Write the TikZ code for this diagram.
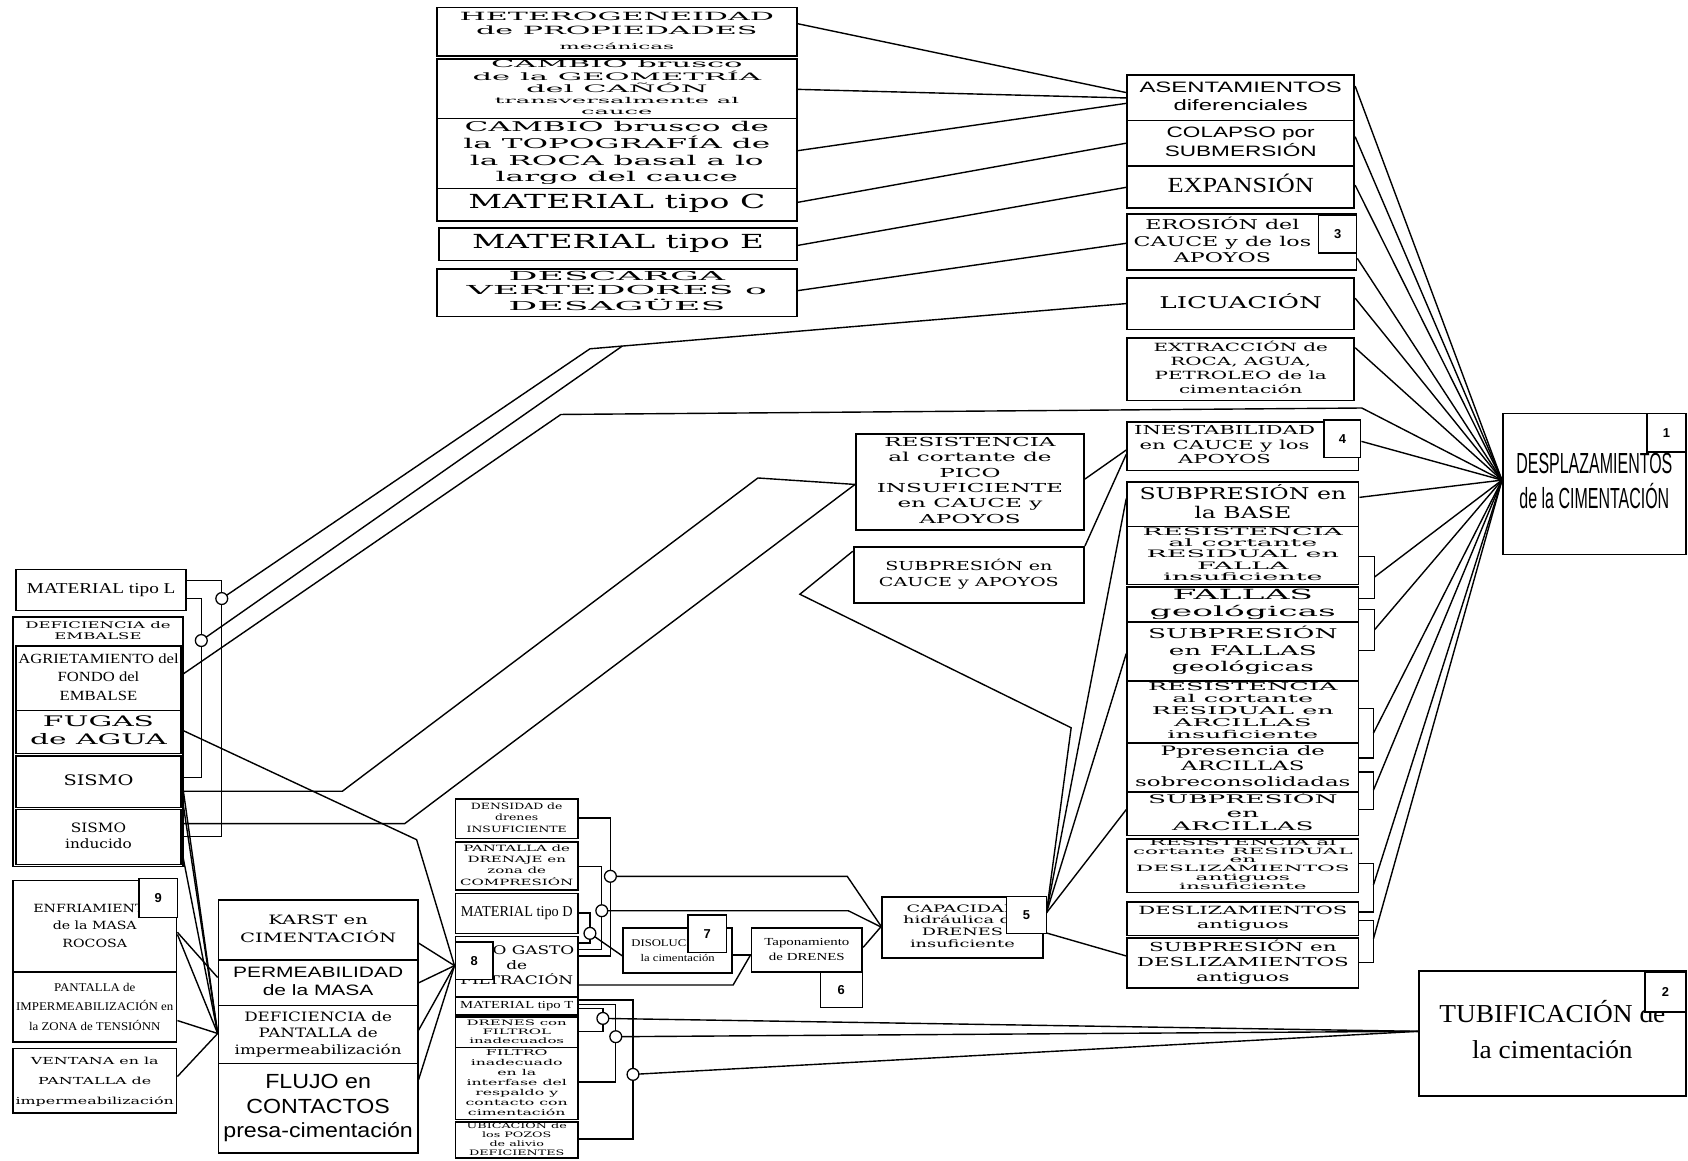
\documentclass[tikz,border=0pt]{standalone}
\usepackage{fontspec}
\usepackage{graphicx}
\newfontfamily\fWide{DejaVu Serif}
\newfontfamily\fSans{Liberation Sans}
\newfontfamily\fSer{Liberation Serif}
\newcommand\tx[4]{\fontsize{#2}{#3}\selectfont\resizebox{#1pt}{\height}{\begin{tabular}{@{}c@{}}#4\end{tabular}}}
\newcommand\bx[6]{\node[box,minimum width={(#4-#2)*1pt},minimum height={(#5-#3)*1pt}] (#1) at ({(#2+#4)/2},{(#3+#5)/2}) {#6};}
\newcommand\bd[6]{\node[badge,minimum width={(#4-#2)*1pt},minimum height={(#5-#3)*1pt}] (#1) at ({(#2+#4)/2},{(#3+#5)/2}) {#6};}
\tikzset{
 box/.style={draw,line width=1.6pt,inner sep=0pt,fill=white},
 badge/.style={draw,line width=1.3pt,fill=white,inner sep=0pt,font=\fSans\bfseries\fontsize{12}{12}\selectfont},
 ln/.style={line width=1.3pt},
 jn/.style={circle,draw,fill=white,inner sep=0pt,minimum size=11pt,line width=1.2pt},
 jnc/.style={circle,inner sep=0pt,minimum size=11pt},
}
\begin{document}
\begin{tikzpicture}[x=1pt,y=-1pt]
\fill[white] (0,0) rectangle (1568,1078);
\useasboundingbox (0,0) rectangle (1568,1078);
% ---------- top column
\bx{T1}{406}{7}{740}{52}{\fWide\tx{292}{10.5}{13.5}{HETEROGENEIDAD\\de PROPIEDADES\\{\fontsize{7.5}{9}\selectfont mecánicas}}}
\bx{T2}{406}{55}{740}{110}{\fWide\tx{268}{9.5}{10.2}{CAMBIO brusco\\de la GEOMETRÍA\\del CAÑÓN\\{\fontsize{7.5}{8.5}\selectfont transversalmente al}\\{\fontsize{7.5}{8.5}\selectfont cauce}}}
\bx{T3}{406}{110}{740}{175}{\fWide\tx{285}{12.5}{15.3}{CAMBIO brusco de\\la TOPOGRAFÍA de\\la ROCA basal a lo\\largo del cauce}}
\bx{T4}{406}{175}{740}{205}{\fWide\tx{276}{18}{20}{MATERIAL tipo C}}
\bx{T5}{408}{212}{740}{242}{\fWide\tx{271}{18}{20}{MATERIAL tipo E}}
\bx{T6}{406}{250}{740}{294}{\fWide\tx{279}{11.5}{13}{DESCARGA\\VERTEDORES o\\DESAGÜES}}
% ---------- right column
\bx{R1}{1047}{70}{1258}{112}{\fSans\tx{188}{14}{17}{ASENTAMIENTOS\\diferenciales}}
\bx{R2}{1047}{112}{1258}{154}{\fSans\tx{141}{14}{17}{COLAPSO por\\SUBMERSIÓN}}
\bx{R3}{1047}{154}{1258}{193}{\fSer\tx{136}{20}{22}{EXPANSIÓN}}
\bx{R4}{1047}{199}{1260}{251}{\fWide\tx{165}{12.5}{15}{EROSIÓN del\\CAUCE y de los\\APOYOS}\kern36pt}
\bx{R5}{1047}{258}{1258}{306}{\fWide\tx{151}{15}{17}{LICUACIÓN}}
\bx{R6}{1047}{314}{1258}{372}{\fWide\tx{162}{10.5}{13}{EXTRACCIÓN de\\ROCA, AGUA,\\PETROLEO de la\\cimentación}}
\bx{R7}{1047}{392}{1262}{437}{\fWide\tx{168}{11.5}{13.5}{INESTABILIDAD\\en CAUCE y los\\APOYOS}\kern34pt}
\bx{R8}{1047}{448}{1262}{489}{\fWide\tx{192}{15}{17.5}{SUBPRESIÓN en\\la BASE}}
\bx{R9}{1047}{489}{1262}{543}{\fWide\tx{186}{9.5}{10.5}{RESISTENCIA\\al cortante\\RESIDUAL en\\FALLA\\insuficiente}}
\bx{R10}{1047}{545}{1262}{578}{\fWide\tx{173}{13}{15.5}{FALLAS\\geológicas}}
\bx{R11}{1047}{578}{1262}{632}{\fWide\tx{176}{12.5}{15.5}{SUBPRESIÓN\\en FALLAS\\geológicas}}
\bx{R12}{1047}{633}{1262}{690}{\fWide\tx{176}{10}{11}{RESISTENCIA\\al cortante\\RESIDUAL en\\ARCILLAS\\insuficiente}}
\bx{R13}{1047}{690}{1262}{736}{\fWide\tx{200}{12}{14.5}{Ppresencia de\\ARCILLAS\\sobreconsolidadas}}
\bx{R14}{1047}{736}{1262}{776}{\fWide\tx{176}{11}{12.5}{SUBPRESIÓN\\en\\ARCILLAS}}
\bx{R15}{1047}{780}{1262}{828}{\fWide\tx{204}{8}{8}{RESISTENCIA al\\cortante RESIDUAL\\en\\DESLIZAMIENTOS\\antiguos\\insuficiente}}
\bx{R16}{1047}{838}{1262}{869}{\fWide\tx{194}{10.5}{13}{DESLIZAMIENTOS\\antiguos}}
\bx{R17}{1047}{871}{1262}{918}{\fWide\tx{197}{11.5}{14}{SUBPRESIÓN en\\DESLIZAMIENTOS\\antiguos}}
% ---------- targets
\bx{DESP}{1396}{384}{1566}{515}{\fSans\tx{145}{27}{32}{DESPLAZAMIENTOS\\de la CIMENTACIÓN}}
\bx{TUBI}{1318}{902}{1566}{1018}{\fSer\tx{210}{24}{33}{TUBIFICACIÓN de\\la cimentación}}
% ---------- middle
\bx{M1}{795}{403}{1007}{492}{\fWide\tx{173}{11.5}{14.3}{RESISTENCIA\\al cortante de\\PICO\\INSUFICIENTE\\en CAUCE y\\APOYOS}}
\bx{M2}{793}{508}{1007}{560}{\fWide\tx{167}{11.5}{15}{SUBPRESIÓN en\\CAUCE y APOYOS}}
% ---------- left cluster
\bx{MATL}{15}{529}{173}{567}{\fSer\tx{138}{14}{16}{MATERIAL tipo L}}
\bx{DEF}{12}{573}{170}{805}{}
\node (DEFt) at (91,587) {\fWide\tx{135}{8.5}{10}{DEFICIENCIA de\\EMBALSE}};
\bx{AGR}{15}{600}{168}{660}{\fSer\tx{149}{13}{17}{AGRIETAMIENTO del\\FONDO del\\EMBALSE}}
\bx{FUG}{15}{660}{168}{700}{\fWide\tx{127}{13.5}{16}{FUGAS\\de AGUA}}
\bx{SIS}{15}{702}{168}{750}{\fWide\tx{65}{13.5}{16}{SISMO}}
\bx{SISI}{15}{752}{168}{803}{\fWide\tx{62}{12}{15}{SISMO\\inducido}}
% ---------- bottom left
\bx{ENF}{12}{818}{164}{903}{\fWide\tx{114}{10.5}{16.5}{ENFRIAMIENTO\\de la MASA\\ROCOSA}}
\bx{PANT}{12}{903}{164}{968}{\fSer\tx{146}{11}{18}{PANTALLA de\\IMPERMEABILIZACIÓN en\\la ZONA de TENSIÓNN}}
\bx{VENT}{12}{974}{164}{1034}{\fWide\tx{147}{9}{18.5}{VENTANA en la\\PANTALLA de\\impermeabilización}}
\bx{KAR}{203}{836}{388}{892}{\fWide\tx{145}{12}{16}{KARST en\\CIMENTACIÓN}}
\bx{PERM}{203}{892}{388}{934}{\fSans\tx{158}{14}{17}{PERMEABILIDAD\\de la MASA}}
\bx{DEFP}{203}{934}{388}{988}{\fWide\tx{155}{12}{15.5}{DEFICIENCIA de\\PANTALLA de\\impermeabilización}}
\bx{FLU}{203}{988}{388}{1071}{\fSans\tx{176}{19}{22.5}{FLUJO en\\CONTACTOS\\presa-cimentación}}
% ---------- bottom column
\bx{DENS}{423}{742}{537}{779}{\fWide\tx{93}{8}{10.5}{DENSIDAD de\\drenes\\INSUFICIENTE}}
\bx{PDR}{423}{782}{537}{827}{\fWide\tx{105}{8}{10.5}{PANTALLA de\\DRENAJE en\\zona de\\COMPRESIÓN}}
\bx{MATD}{423}{830}{537}{867}{\fSer\tx{104}{14}{16}{MATERIAL tipo D}}
\bx{GAS}{423}{870}{537}{926}{\fWide\tx{107}{11}{13.5}{ALTO GASTO\\de\\FILTRACIÓN}}
\bx{MATT}{423}{926}{537}{943}{\fSer\tx{105}{10}{11}{MATERIAL tipo T}}
\bx{DRF}{423}{945}{537}{973}{\fWide\tx{93}{7}{8.5}{DRENES con\\FILTROL\\inadecuados}}
\bx{FIL}{423}{973}{537}{1040}{\fWide\tx{95}{7.5}{9.3}{FILTRO\\inadecuado\\en la\\interfase del\\respaldo y\\contacto con\\cimentación}}
\bx{POZ}{423}{1042}{537}{1076}{\fWide\tx{93}{7}{8.3}{UBICACIÓN de\\los POZOS\\de alivio\\DEFICIENTES}}
\bx{DIS}{579}{862}{680}{904}{\fSer\tx{86}{9.5}{14}{DISOLUCIÓN de\\la cimentación}}
\bx{TAP}{698}{862}{801}{903}{\fSer\tx{79}{10}{14}{Taponamiento\\de DRENES}}
\bx{CAP}{819}{833}{969}{890}{\fWide\tx{110}{9.5}{11}{CAPACIDAD\\hidráulica de\\DRENES\\insuficiente}}
% ---------- junction placeholders
\node[jnc] (cL1) at (206,556) {};
\node[jnc] (cL2) at (187,595) {};
\node[jnc] (cA) at (567,814) {};
\node[jnc] (cB) at (559,846) {};
\node[jnc] (cC) at (548,867) {};
\node[jnc] (cT1) at (560,946) {};
\node[jnc] (cT2) at (572,963) {};
\node[jnc] (cT3) at (588,998) {};
% ---------- coordinates
\coordinate (P) at (DESP.west |- 0,446);
\coordinate (TU) at (TUBI.west |- 0,958);
\coordinate (G8) at (GAS.west |- 0,897);
\coordinate (DP) at (DEFP.west |- 0,960);
\coordinate (KL) at (548,324);
\coordinate (KL2) at (578,321.5);
\coordinate (K3) at (521,385);
\coordinate (K4) at (1265,379);
\coordinate (KS1) at (318,735);
\coordinate (KS2) at (704,444);
\coordinate (KS3) at (376,765);
\coordinate (KF) at (387,780);
\coordinate (KM1) at (743,552);
\coordinate (KM2) at (995,676);
\coordinate (F5) at (972,848);
% ---------- top connectors
\draw[ln] (T1.east |- 0,22) -- (R1.west |- 0,86);
\draw[ln] (T2.east |- 0,83) -- (R1.west |- 0,91);
\draw[ln] (T3.east |- 0,140) -- (R1.west |- 0,96);
\draw[ln] (T4.east |- 0,188) -- (R2.west |- 0,133);
\draw[ln] (T5.east |- 0,228) -- (R3.west |- 0,174);
\draw[ln] (T6.east |- 0,270) -- (R4.west |- 0,226);
% ---------- to DESPLAZAMIENTOS
\draw[ln] (R1.east |- 0,80) -- (P);
\draw[ln] (R2.east |- 0,127) -- (P);
\draw[ln] (R3.east |- 0,172) -- (P);
\draw[ln] (R4.east |- 0,240) -- (P);
\draw[ln] (R5.east |- 0,277) -- (P);
\draw[ln] (R6.east |- 0,323) -- (P);
\draw[ln] (R8.east |- 0,462) -- (P);
% brackets
\draw[ln] (R9.east |- 0,517) -- ++(14,0) |- (R10.east |- 0,556);
\draw[ln] (R10.east |- 0,566) -- ++(14,0) |- (R11.east |- 0,604);
\draw[ln] (R12.east |- 0,658) -- ++(13,0) |- (R13.east |- 0,704);
\draw[ln] (R13.east |- 0,717) -- ++(13,0) |- (R14.east |- 0,752);
\draw[ln] (R15.east |- 0,802) -- ++(13,0) |- (R16.east |- 0,847);
\draw[ln] (R16.east |- 0,855) -- ++(13,0) |- (R17.east |- 0,894);
\draw[ln] (R9.east |- 0,536) ++(14,0) -- (P);
\draw[ln] (R10.east |- 0,585) ++(14,0) -- (P);
\draw[ln] (R12.east |- 0,681) ++(13,0) -- (P);
\draw[ln] (R13.east |- 0,734) ++(13,0) -- (P);
\draw[ln] (R15.east |- 0,822) ++(13,0) -- (P);
\draw[ln] (R16.east |- 0,872) ++(13,0) -- (P);
% ---------- left cluster wires
\draw[ln] (MATL.east |- 0,539) -- (206,539) -- (206,777) -- (SISI.east |- 0,777);
\draw[ln] (MATL.east |- 0,556) -- (187,556) -- (187,722) -- (SIS.east |- 0,722);
\draw[ln] (cL1) -- (KL) -- (R5.west |- 0,282);
\draw[ln] (cL2) -- (KL2);
\draw[ln] (AGR.east |- 0,627) -- (K3) -- (K4) -- (P);
\draw[ln] (SIS.east |- 0,735) -- (KS1) -- (KS2) -- (M1.west |- 0,450);
\draw[ln] (SISI.east |- 0,765) -- (KS3) -- (M1.west |- 0,450);
\draw[ln] (FUG.east |- 0,678) -- (KF) -- (G8);
\draw[ln] (SIS.east |- 0,724) -- (DP);
\draw[ln] (SIS.east |- 0,738) -- (DP);
\draw[ln] (SISI.east |- 0,790) -- (DP);
\draw[ln] (ENF.east |- 0,866) -- (PERM.west |- 0,908);
\draw[ln] (ENF.east |- 0,868) -- (DP);
\draw[ln] (PANT.east |- 0,948) -- (DP);
\draw[ln] (VENT.east |- 0,1000) -- (DP);
\draw[ln] (KAR.east |- 0,876) -- (G8);
\draw[ln] (PERM.east |- 0,913) -- (G8);
\draw[ln] (DEFP.east |- 0,957) -- (G8);
\draw[ln] (FLU.east |- 0,1003) -- (G8);
% ---------- middle
\draw[ln] (M1.east |- 0,445) -- (R7.west |- 0,418);
\draw[ln] (M2.north east) -- (R7.west |- 0,422);
\draw[ln] (M2.west |- 0,512) -- (KM1) -- (KM2) -- (F5);
\draw[ln] (F5) -- (R8.west |- 0,463);
\draw[ln] (F5) -- (R11.west |- 0,607);
\draw[ln] (F5) -- (R14.west |- 0,752);
\draw[ln] (CAP.east |- 0,866) -- (R17.west |- 0,888);
% ---------- drain wires
\draw[ln] (DENS.east |- 0,760) -- (567,760) -- (567,888) -- (GAS.east |- 0,888);
\draw[ln] (PDR.east |- 0,805) -- (559,805) -- (559,882) -- (GAS.east |- 0,882);
\draw[ln] (MATD.east |- 0,848) -- (548,848) -- (548,876) -- (GAS.east |- 0,876);
\draw[ln] (cA) -- (787,814) -- (CAP.west |- 0,860);
\draw[ln] (cB) -- (788,846) -- (CAP.west |- 0,861);
\draw[ln] (cC) -- (DIS.west |- 0,888);
\draw[ln] (GAS.east |- 0,915) -- (681,915) -- (TAP.west |- 0,887);
\draw[ln] (DIS.east |- 0,887) -- (TAP.west |- 0,887);
\draw[ln] (TAP.east |- 0,880) -- (CAP.west |- 0,861);
\draw[ln] (MATT.east |- 0,929) -- (588,929) -- (588,1058) -- (POZ.east |- 0,1058);
\draw[ln] (MATT.east |- 0,933) -- (572,933) -- (572,1005) -- (FIL.east |- 0,1005);
\draw[ln] (MATT.east |- 0,937) -- (560,937) -- (560,958) -- (DRF.east |- 0,958);
\draw[ln] (cT1) -- (TU);
\draw[ln] (cT2) -- (TU);
\draw[ln] (cT3) -- (TU);
% ---------- visible junction circles
\node[jn] (vL1) at (cL1) {};
\node[jn] (vL2) at (cL2) {};
\node[jn] (vA) at (cA) {};
\node[jn] (vB) at (cB) {};
\node[jn] (vC) at (cC) {};
\node[jn] (vT1) at (cT1) {};
\node[jn] (vT2) at (cT2) {};
\node[jn] (vT3) at (cT3) {};
% ---------- badges
\bd{B1}{1530}{384}{1566}{420}{1}
\bd{B2}{1528}{903}{1566}{940}{2}
\bd{B3}{1225}{200}{1260}{235}{3}
\bd{B4}{1230}{390}{1264}{425}{4}
\bd{B5}{935}{833}{972}{867}{5}
\bd{B6}{762}{903}{801}{936}{6}
\bd{B7}{639}{850}{675}{885}{7}
\bd{B8}{423}{875}{458}{910}{8}
\bd{B9}{129}{816}{165}{852}{9}
\draw[ln] (B4.east |- 0,410) -- (P);
\end{tikzpicture}
\end{document}
